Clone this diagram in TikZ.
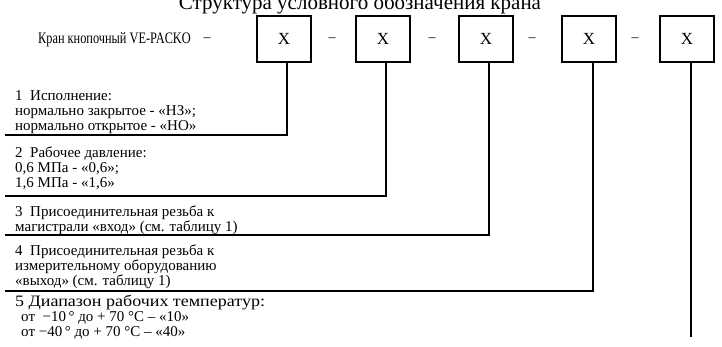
\documentclass[tikz,border=0pt]{standalone}
\usepackage{fontspec}
\setmainfont{Liberation Serif}
\usepackage{graphicx}
\tikzset{
  codebox/.style={draw, line width=1.6pt, minimum width=54pt, minimum height=46pt,
    inner sep=0pt, font=\fontsize{17}{17}\selectfont},
  lead/.style={line width=1.6pt},
  note/.style={anchor=north west, align=left, inner sep=0pt,
    font=\fontsize{15}{15}\selectfont},
  sepdash/.style={inner sep=0pt, font=\fontsize{14}{14}\selectfont}
}
\begin{document}
\begin{tikzpicture}[x=1pt,y=-1pt]
  \useasboundingbox (0,0) rectangle (722,346);
  % title and code line
  \node[anchor=base, font=\fontsize{21}{21}\selectfont] (title) at (360,9)
    {Структура условного обозначения крана};
  \node[anchor=west, inner sep=0pt, font=\fontsize{16}{16}\selectfont] (name) at (38,40)
    {\scalebox{0.77}[1]{Кран кнопочный VE-PACKO}};
  \node[sepdash] (d0) at (207,40) {–};
  \node[codebox] (b1) at (284,39) {X};
  \node[sepdash] (d1) at (332,40) {–};
  \node[codebox] (b2) at (383,39) {X};
  \node[sepdash] (d2) at (432,40) {–};
  \node[codebox] (b3) at (486,39) {X};
  \node[sepdash] (d3) at (532,40) {–};
  \node[codebox] (b4) at (589,39) {X};
  \node[sepdash] (d4) at (635,40) {–};
  \node[codebox] (b5) at (687,39) {X};
  % legend
  \node[note] (n1) at (15,90) {1~~Исполнение:\\нормально закрытое - «НЗ»;\\нормально открытое - «НО»};
  \node[note] (n2) at (15,147) {2~~Рабочее давление:\\0,6 МПа - «0,6»;\\1,6 МПа - «1,6»};
  \node[note] (n3) at (15,206) {3~~Присоединительная резьба к\\магистрали «вход» (см. таблицу 1)};
  \node[note] (n4) at (15,245) {4~~Присоединительная резьба к\\измерительному оборудованию\\«выход» (см. таблицу 1)};
  \node[note] (n5) at (15,295) {\scalebox{1.2}[1.06]{5 Диапазон рабочих температур:}\\
    \hspace*{6pt}от~~−10\,° до + 70 °С – «10»\\
    \hspace*{6pt}от −40\,° до + 70 °С – «40»};
  % leaders
  \coordinate (k1) at (287,135);
  \coordinate (k2) at (386,196);
  \coordinate (k3) at (489,235);
  \coordinate (k4) at (593,291);
  \coordinate (e5) at (691,337);
  \coordinate (l1) at (5,135);
  \coordinate (l2) at (5,196);
  \coordinate (l3) at (5,235);
  \coordinate (l4) at (5,291);
  \draw[lead] (b1.south -| k1) -- (k1) -- (l1);
  \draw[lead] (b2.south -| k2) -- (k2) -- (l2);
  \draw[lead] (b3.south -| k3) -- (k3) -- (l3);
  \draw[lead] (b4.south -| k4) -- (k4) -- (l4);
  \draw[lead] (b5.south -| e5) -- (e5);
\end{tikzpicture}
\end{document}
